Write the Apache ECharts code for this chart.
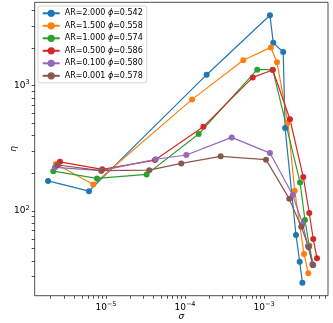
<!DOCTYPE html>
<html>
<head>
<meta charset="utf-8">
<script src="https://cdn.jsdelivr.net/npm/echarts@6/dist/echarts.min.js"></script>
<style>
  html, body { margin: 0; padding: 0; background: #fff; }
  #chart { width: 333px; height: 323px; }
</style>
</head>
<body>
<div id="chart"></div>
<script>
// values (sigma, eta) per AR
var names = ['AR=2.000 ϕ=0.542', 'AR=1.500 ϕ=0.558', 'AR=1.000 ϕ=0.574',
             'AR=0.500 ϕ=0.586', 'AR=0.100 ϕ=0.580', 'AR=0.001 ϕ=0.578'];
var colors = ['#1f77b4', '#ff7f0e', '#2ca02c', '#d62728', '#9467bd', '#8c564b'];

var sigmaAR2000 = [1.85e-6, 6.1e-6, 1.88e-4, 1.19e-3, 1.31e-3, 1.75e-3, 1.85e-3, 2.54e-3, 2.83e-3, 3.06e-3];
var etaAR2000   = [174, 144, 1225, 3650, 2200, 1858, 459, 64.3, 39.4, 26.8];

var sigmaAR1500 = [2.33e-6, 6.9e-6, 1.23e-4, 5.47e-4, 1.22e-3, 1.46e-3, 2.01e-3, 2.45e-3, 3.21e-3, 3.64e-3];
var etaAR1500   = [237, 163, 778, 1596, 2023, 1538, 507, 145, 45.4, 31.9];

var sigmaAR1000 = [2.15e-6, 7.7e-6, 3.27e-5, 1.49e-4, 8.2e-4, 1.29e-3, 2.86e-3, 3.3e-3, 3.74e-3, 4.2e-3];
var etaAR1000   = [208, 182, 196, 412, 1343, 1343, 169, 84.7, 52.8, 37.1];

var sigmaAR0500 = [2.62e-6, 8.98e-6, 4.17e-5, 1.71e-4, 7.2e-4, 1.29e-3, 2.13e-3, 3.14e-3, 3.74e-3, 4.2e-3, 4.69e-3];
var etaAR0500   = [247, 215, 255, 471, 1166, 1334, 540, 187, 96.4, 59.8, 41.9];

var sigmaAR0100 = [2.26e-6, 8.77e-6, 4.26e-5, 1.04e-4, 3.9e-4, 1.19e-3, 2.31e-3, 3.09e-3, 3.6e-3, 4.11e-3];
var etaAR0100   = [223, 210, 259, 280, 387, 290, 134, 78.7, 52.6, 37.8];

var sigmaAR0001 = [2.44e-6, 8.72e-6, 3.53e-5, 8.97e-5, 2.83e-4, 1.06e-3, 2.09e-3, 2.96e-3, 3.68e-3, 4.13e-3];
var etaAR0001   = [233, 210, 212, 240, 273, 257, 125, 75, 51.3, 37];

var xTicks = [1e-5, 1e-4, 1e-3];
var yTicks = [100, 1000];

var sigmaSets = [sigmaAR2000, sigmaAR1500, sigmaAR1000, sigmaAR0500, sigmaAR0100, sigmaAR0001];
var etaSets = [etaAR2000, etaAR1500, etaAR1000, etaAR0500, etaAR0100, etaAR0001];

var xMin = Math.pow(10, -5.902), xMax = Math.pow(10, -2.19);
var yMin = Math.pow(10, 1.324), yMax = Math.pow(10, 3.666);

// 2..9 x 10^n minor ticks inside the axis range
function minorTicks(lo, hi) {
    var out = [];
    for (var e = Math.floor(Math.log10(lo)); e <= Math.ceil(Math.log10(hi)); e++) {
        for (var k = 2; k <= 9; k++) {
            var v = k * Math.pow(10, e);
            if (v > lo && v < hi) out.push(v);
        }
    }
    return out;
}

function powLabel(v) {
    var e = Math.round(Math.log10(v));
    return '10{sup|' + (e < 0 ? '\u2212' + (-e) : e) + '}';
}

var font = 'DejaVu Sans';
var labelRich = { sup: { fontSize: 6.5, fontFamily: font, color: '#000', padding: [0, 0, 6, 0] } };

var series = sigmaSets.map(function (xs, i) {
    return {
        name: names[i],
        type: 'line',
        data: xs.map(function (x, j) { return [x, etaSets[i][j]]; }),
        symbol: 'circle',
        symbolSize: 6,
        color: colors[i],
        lineStyle: { width: 1.2 },
        itemStyle: { color: colors[i] },
        emphasis: { disabled: true },
        animation: false
    };
});

var chart = echarts.init(document.getElementById('chart'));
chart.setOption({
    animation: false,
    grid: { left: 34.7, right: 5, top: 2.3, bottom: 27.3, outerBoundsMode: 'none', containLabel: false,
            show: true, borderColor: '#222', borderWidth: 0.8 },
    legend: {
        orient: 'vertical',
        left: 38, top: 6,
        padding: [2.8, 4, 2.5, 3.7],
        itemWidth: 17, itemHeight: 9, itemGap: 3.5,
        backgroundColor: 'rgba(255,255,255,0.8)',
        borderColor: '#ccc', borderWidth: 0.8, borderRadius: 2,
        data: names,
        formatter: function (n) { return n.replace('ϕ', '{i|ϕ}'); },
        textStyle: { fontSize: 8, fontFamily: font, color: '#000', lineHeight: 9,
                     rich: { i: { fontSize: 8, fontFamily: font, fontStyle: 'italic', color: '#000' } } }
    },
    xAxis: {
        type: 'log', logBase: 10, min: xMin, max: xMax,
        name: 'σ', nameLocation: 'middle', nameGap: 16, nameMoveOverlap: false,
        nameTextStyle: { fontSize: 9, fontFamily: font, fontStyle: 'italic', color: '#000' },
        axisLine: { show: false },
        splitLine: { show: false },
        axisTick: { customValues: xTicks.concat(minorTicks(xMin, xMax)), length: 3, lineStyle: { color: '#222', width: 0.8 } },
        axisLabel: { customValues: xTicks, formatter: powLabel, fontSize: 9, fontFamily: font, color: '#000', margin: 5, rich: labelRich }
    },
    yAxis: {
        type: 'log', logBase: 10, min: yMin, max: yMax,
        name: 'η', nameLocation: 'middle', nameGap: 17, nameMoveOverlap: false,
        nameTextStyle: { fontSize: 9, fontFamily: font, fontStyle: 'italic', color: '#000' },
        axisLine: { show: false },
        splitLine: { show: false },
        axisTick: { customValues: yTicks.concat(minorTicks(yMin, yMax)), length: 3, lineStyle: { color: '#222', width: 0.8 } },
        axisLabel: { customValues: yTicks, formatter: powLabel, fontSize: 9, fontFamily: font, color: '#000', margin: 5, rich: labelRich }
    },
    series: series
});
</script>
</body>
</html>
